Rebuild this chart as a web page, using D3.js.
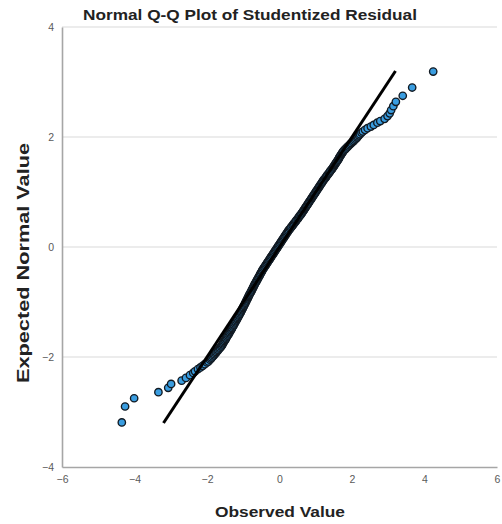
<!DOCTYPE html>
<html>
<head>
<meta charset="utf-8">
<script src="https://cdn.jsdelivr.net/npm/d3@7"></script>
<style>
  html, body { margin: 0; padding: 0; background: #fff; }
  svg { display: block; font-family: "Liberation Sans", Arial, sans-serif; }
</style>
</head>
<body>
<script>
// ---------------- DATA ----------------
const title = "Normal Q-Q Plot of Studentized Residual";
const xTitle = "Observed Value";
const yTitle = "Expected Normal Value";
const xTicks = [-6, -4, -2, 0, 2, 4, 6];
const yTicks = [-4, -2, 0, 2, 4];
const refLine = [-3.2, 3.2];

// lower tail (individually visible points)
const lowTailExpected = [-3.19, -2.90, -2.75, -2.64, -2.56, -2.49, -2.43, -2.38, -2.33, -2.29,
  -2.26, -2.22, -2.19, -2.16, -2.13, -2.10, -2.08, -2.05, -2.03, -2.01];
const lowTailObserved = [-4.35, -4.26, -4.01, -3.34, -3.07, -2.99, -2.70, -2.58, -2.47, -2.38,
  -2.33, -2.25, -2.18, -2.12, -2.06, -2.00, -1.96, -1.92, -1.89, -1.87];

// dense central band
const midExpected = [
  -1.99,-1.97,-1.95,-1.93,-1.91,-1.89,-1.87,-1.85,-1.83,-1.81,
  -1.79,-1.77,-1.75,-1.73,-1.71,-1.69,-1.67,-1.65,-1.63,-1.61,-1.59,-1.57,-1.55,-1.53,-1.51,
  -1.49,-1.47,-1.45,-1.43,-1.41,-1.39,-1.37,-1.35,-1.33,-1.31,-1.29,-1.27,-1.25,-1.23,-1.21,
  -1.19,-1.17,-1.15,-1.13,-1.11,-1.09,-1.07,-1.05,-1.03,-1.01,-0.99,-0.97,
  -0.95,-0.93,-0.91,-0.89,-0.87,-0.85,-0.83,-0.81,-0.79,-0.77,-0.75,-0.73,-0.71,
  -0.69,-0.67,-0.65,-0.63,-0.61,-0.59,-0.57,-0.55,-0.53,-0.51,-0.49,-0.47,-0.45,-0.43,-0.41,
  -0.39,-0.37,-0.35,-0.33,-0.31,-0.29,-0.27,-0.25,-0.23,-0.21,-0.19,-0.17,-0.15,-0.13,-0.11,
  -0.09,-0.07,-0.05,-0.03,-0.01,0.01,0.03,0.05,0.07,0.09,0.11,0.13,0.15,0.17,0.19,
  0.21,0.23,0.25,0.27,0.29,
  0.31,0.33,0.35,0.37,0.39,0.41,0.43,0.45,0.47,0.49,0.51,0.53,0.55,0.57,0.59,
  0.61,0.63,0.65,0.67,0.69,0.71,0.73,0.75,0.77,0.79,0.81,0.83,0.85,0.87,0.89,
  0.91,0.93,0.95,0.97,0.99,1.01,1.03,1.05,1.07,1.09,1.11,1.13,1.15,1.17,1.19,
  1.21,1.23,1.25,1.27,1.29,1.31,1.33,1.35,1.37,1.39,1.41,1.43,1.45,
  1.47,1.49,1.51,1.53,1.55,1.57,1.59,1.61,1.63,1.65,1.67,1.69,1.71,1.73,1.75,
  1.77,1.79,1.81,1.83,1.85,1.87,1.89,1.91,1.93,1.95,1.97,1.99];
const midObserved = [
  -1.84,-1.81,-1.79,-1.76,-1.74,-1.71,-1.69,-1.66,-1.64,-1.61,
  -1.59,-1.57,-1.56,-1.54,-1.52,-1.50,-1.48,-1.47,-1.45,-1.43,-1.41,-1.39,-1.38,-1.36,-1.34,
  -1.32,-1.31,-1.29,-1.27,-1.26,-1.24,-1.22,-1.21,-1.19,-1.17,-1.16,-1.14,-1.12,-1.11,-1.09,
  -1.07,-1.06,-1.04,-1.03,-1.01,-1.00,-0.98,-0.97,-0.95,-0.94,-0.92,-0.91,
  -0.89,-0.88,-0.86,-0.85,-0.83,-0.82,-0.80,-0.78,-0.77,-0.75,-0.74,-0.72,-0.71,
  -0.69,-0.68,-0.66,-0.64,-0.63,-0.61,-0.59,-0.58,-0.56,-0.54,-0.53,-0.51,-0.49,-0.48,-0.46,
  -0.44,-0.42,-0.40,-0.38,-0.36,-0.34,-0.32,-0.30,-0.28,-0.26,-0.24,-0.22,-0.20,-0.18,-0.16,
  -0.14,-0.12,-0.10,-0.08,-0.06,-0.04,-0.02,0.00,0.02,0.04,0.06,0.08,0.10,0.12,0.14,
  0.16,0.18,0.20,0.22,0.24,
  0.26,0.29,0.31,0.33,0.36,0.38,0.40,0.43,0.45,0.47,0.50,0.52,0.54,0.56,0.59,
  0.61,0.63,0.65,0.67,0.69,0.71,0.73,0.75,0.77,0.79,0.81,0.83,0.85,0.87,0.89,
  0.91,0.93,0.95,0.97,0.99,1.01,1.03,1.05,1.07,1.09,1.11,1.13,1.15,1.17,1.19,
  1.21,1.23,1.26,1.28,1.30,1.32,1.35,1.37,1.39,1.41,1.44,1.46,1.48,
  1.50,1.52,1.54,1.56,1.58,1.60,1.62,1.64,1.65,1.67,1.69,1.71,1.73,1.75,1.77,
  1.80,1.83,1.86,1.89,1.92,1.95,1.98,2.02,2.05,2.08,2.11,2.14];

// upper tail (individually visible points)
const highTailExpected = [2.01, 2.03, 2.05, 2.08, 2.10, 2.13, 2.16, 2.19, 2.22, 2.26,
  2.29, 2.33, 2.38, 2.43, 2.49, 2.56, 2.64, 2.75, 2.90, 3.19];
const highTailObserved = [2.16, 2.19, 2.22, 2.26, 2.30, 2.36, 2.43, 2.52, 2.60, 2.70,
  2.78, 2.90, 2.98, 3.04, 3.08, 3.14, 3.21, 3.40, 3.66, 4.24];

// ---------------- CHART ----------------
const W = 502, H = 524;
const plot = { left: 62, right: 497, top: 27, bottom: 467 };

const x = d3.scaleLinear().domain([-6, 6]).range([plot.left, plot.right]);
const y = d3.scaleLinear().domain([-4, 4]).range([plot.bottom, plot.top]);

const svg = d3.select("body").append("svg").attr("width", W).attr("height", H);

// gridlines
svg.append("g").attr("class", "grid")
  .selectAll("line").data(yTicks.filter(d => d !== -4)).join("line")
  .attr("x1", plot.left).attr("x2", plot.right)
  .attr("y1", d => y(d)).attr("y2", d => y(d))
  .attr("stroke", "#d9d9d9").attr("stroke-width", 1.2);

// axes
const xAxis = d3.axisBottom(x).tickValues(xTicks).tickSize(0).tickPadding(9);
const yAxis = d3.axisLeft(y).tickValues(yTicks).tickSize(0).tickPadding(8);

const gx = svg.append("g").attr("transform", `translate(0,${plot.bottom})`).call(xAxis);
const gy = svg.append("g").attr("transform", `translate(${plot.left},0)`).call(yAxis);
[gx, gy].forEach(g => {
  g.select(".domain").attr("stroke", "#a6a6a6").attr("stroke-width", 1.6);
  g.selectAll("text").attr("fill", "#5a5a5a").style("font-size", "10.5px")
    .style("font-family", "'Liberation Sans', Arial, sans-serif");
});

// points
const points = [];
lowTailExpected.forEach((e, i) => points.push([lowTailObserved[i], e]));
midExpected.forEach((e, i) => points.push([midObserved[i], e]));
highTailExpected.forEach((e, i) => points.push([highTailObserved[i], e]));

svg.append("g").selectAll("circle").data(points).join("circle")
  .attr("cx", d => x(d[0])).attr("cy", d => y(d[1]))
  .attr("r", 3.7)
  .attr("fill", "#3a9de0")
  .attr("stroke", "#121a22").attr("stroke-width", 1.35);

// reference line
svg.append("line")
  .attr("x1", x(refLine[0])).attr("y1", y(refLine[0]))
  .attr("x2", x(refLine[1])).attr("y2", y(refLine[1]))
  .attr("stroke", "#000").attr("stroke-width", 3);

// titles
svg.append("text").attr("x", 250).attr("y", 20).attr("text-anchor", "middle")
  .attr("textLength", 334).attr("lengthAdjust", "spacingAndGlyphs")
  .style("font-size", "14.5px").style("font-weight", "bold").attr("fill", "#222")
  .text(title);
svg.append("text").attr("x", 280).attr("y", 517).attr("text-anchor", "middle")
  .attr("textLength", 130).attr("lengthAdjust", "spacingAndGlyphs")
  .style("font-size", "15.5px").style("font-weight", "bold").attr("fill", "#222")
  .text(xTitle);
svg.append("text").attr("transform", "translate(29,263) rotate(-90)").attr("text-anchor", "middle")
  .attr("textLength", 240).attr("lengthAdjust", "spacingAndGlyphs")
  .style("font-size", "16px").style("font-weight", "bold").attr("fill", "#222")
  .text(yTitle);
</script>
</body>
</html>
